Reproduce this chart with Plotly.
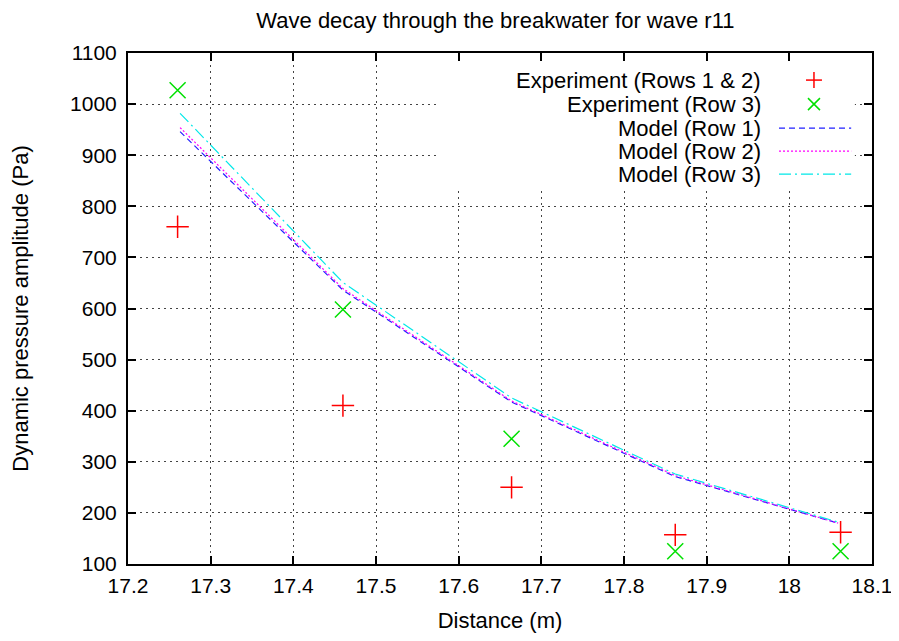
import plotly.graph_objects as go

# sensor positions along the breakwater (m)
distance = [17.26, 17.46, 17.664, 17.862, 18.062]
exp_rows12 = [760, 410, 250, 157, 162]
exp_row3 = [1027, 598, 345, 125, 125]

model_x = [17.263, 17.46, 17.664, 17.862, 18.059]
model_row1 = [946, 636, 417, 271, 180]
model_row2 = [954, 639, 419, 273, 180]
model_row3 = [982, 651, 425, 276, 182]

legend_names = ["Experiment (Rows 1 & 2)", "Experiment (Row 3)",
                "Model (Row 1)", "Model (Row 2)", "Model (Row 3)"]

FONT = "Liberation Sans"
fs = 21

RED = '#ff0000'
GREEN = '#00e000'
BLUE = '#2020ff'
MAGENTA = '#ff00ff'
CYAN = '#00e8e8'
dashes = ['6px,4px', '2px,2px', '12px,4px,2px,4px']

# page body has an 8px margin, so the figure is shrunk to fit the window
W, H = 883, 625
PW, PH = 744, 511   # plot area size in px

fig = go.Figure()

fig.add_trace(go.Scatter(x=distance, y=exp_rows12, mode='markers', name=legend_names[0],
                         marker=dict(symbol='cross-thin', size=16, line=dict(color=RED, width=1.5))))
fig.add_trace(go.Scatter(x=distance, y=exp_row3, mode='markers', name=legend_names[1],
                         marker=dict(symbol='x-thin', size=16, line=dict(color=GREEN, width=1.5))))
fig.add_trace(go.Scatter(x=model_x, y=model_row1, mode='lines', name=legend_names[2],
                         line=dict(color=BLUE, width=1.2, dash=dashes[0])))
fig.add_trace(go.Scatter(x=model_x, y=model_row2, mode='lines', name=legend_names[3],
                         line=dict(color=MAGENTA, width=1.2, dash=dashes[1])))
fig.add_trace(go.Scatter(x=model_x, y=model_row3, mode='lines', name=legend_names[4],
                         line=dict(color=CYAN, width=1.2, dash=dashes[2])))

# hand-drawn legend (gnuplot style: text right aligned, sample on the right)
shapes = [dict(type='rect', xref='paper', yref='paper', x0=0.419, x1=0.977, y0=0.736, y1=0.980,
               fillcolor='white', line=dict(width=0), layer='above')]
annotations = []
rows_y = [0.947, 0.900, 0.853, 0.808, 0.763]
text_x = 0.853
mark_x = 0.922
hx, hy = 8 / PW, 8 / PH
for name, yy in zip(legend_names, rows_y):
    annotations.append(dict(text=name, x=text_x, y=yy, xref='paper', yref='paper',
                            xanchor='right', yanchor='middle', showarrow=False,
                            font=dict(family=FONT, size=22, color='black')))


def seg(x0, y0, x1, y1, color, dash='solid', width=1.5):
    return dict(type='line', xref='paper', yref='paper', x0=x0, x1=x1, y0=y0, y1=y1,
                line=dict(color=color, width=width, dash=dash), layer='above')


# + sample
shapes.append(seg(mark_x - hx, rows_y[0], mark_x + hx, rows_y[0], RED))
shapes.append(seg(mark_x, rows_y[0] - hy, mark_x, rows_y[0] + hy, RED))
# x sample
shapes.append(seg(mark_x - hx * 0.75, rows_y[1] - hy * 0.75, mark_x + hx * 0.75, rows_y[1] + hy * 0.75, GREEN))
shapes.append(seg(mark_x - hx * 0.75, rows_y[1] + hy * 0.75, mark_x + hx * 0.75, rows_y[1] - hy * 0.75, GREEN))
# line samples
for yy, col, dash in zip(rows_y[2:], [BLUE, MAGENTA, CYAN], dashes):
    shapes.append(seg(0.875, yy, 0.972, yy, col, dash, 1.2))

axis_common = dict(showline=True, linecolor='black', linewidth=2, mirror='allticks',
                   ticks='inside', ticklen=8, tickwidth=2, tickcolor='black', automargin=False,
                   showgrid=True, gridcolor='#444', gridwidth=1, griddash='2px,4px',
                   zeroline=False, ticklabeloverflow='allow',
                   tickfont=dict(family=FONT, size=fs, color='black'))

fig.update_layout(
    width=W, height=H,
    paper_bgcolor='white', plot_bgcolor='white',
    showlegend=False,
    margin=dict(l=120, r=W - 120 - PW, t=45, b=H - 45 - PH),
    title=dict(text="Wave decay through the breakwater for wave r11", x=0.552, xanchor='center',
               y=0.98, yanchor='middle', font=dict(family=FONT, size=22, color='black')),
    xaxis=dict(range=[17.2, 18.1], dtick=0.1, tick0=17.2, ticklabelstandoff=2,
               title=dict(text="Distance (m)", standoff=18, font=dict(family=FONT, size=22, color='black')),
               **axis_common),
    yaxis=dict(range=[100, 1100], dtick=100, ticklabelstandoff=5,
               title=dict(text="Dynamic pressure amplitude (Pa)", standoff=38,
                          font=dict(family=FONT, size=22, color='black')),
               **axis_common),
    shapes=shapes,
    annotations=annotations,
)

fig.write_html("out.html")
